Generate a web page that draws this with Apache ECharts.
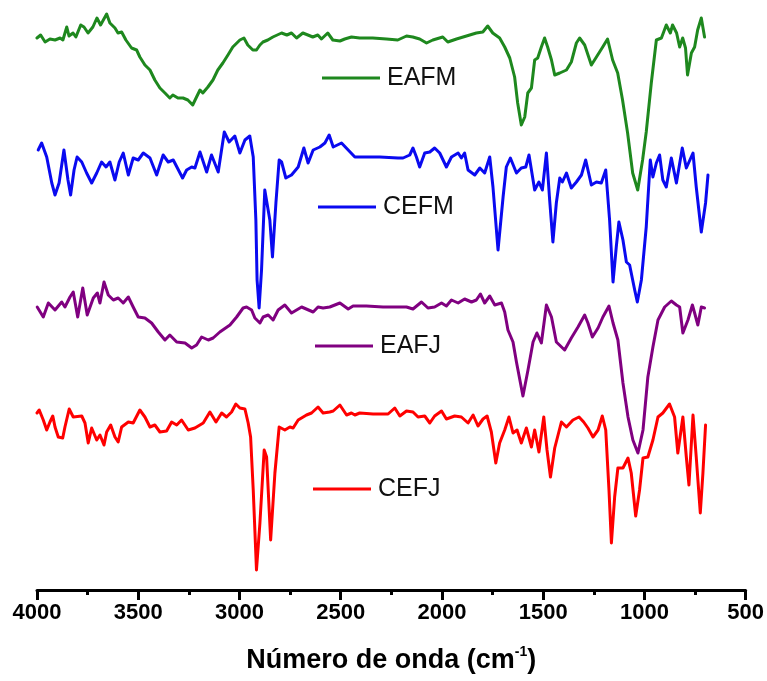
<!DOCTYPE html>
<html>
<head>
<meta charset="utf-8">
<script src="https://cdn.jsdelivr.net/npm/echarts@6/dist/echarts.min.js"></script>
<style>html,body{margin:0;padding:0;background:#fff}#c{width:767px;height:681px}</style>
</head>
<body>
<div id="c"></div>
<script>
// Series names (legend labels)
const seriesNames = ['EAFM', 'CEFM', 'EAFJ', 'CEFJ'];
const seriesColors = ['#1e881e', '#0a0af0', '#800080', '#ff0000'];

// x-axis (wavenumber, cm-1)
const xMin = 500, xMax = 4000, xStep = 500;

// Each series: [wavenumber, offset intensity (a.u.)]
const EAFM = [
[4000,552],[3982,555],[3960,548],[3936,551],[3911,550],[3886,552],[3872,550],[3853,563],[3842,554],[3822,557],
[3808,553],[3784,565],[3768,563],[3748,557],[3724,563],[3704,572],[3686,565],[3656,576],[3640,567],[3615,562],
[3600,557],[3582,558],[3561,550],[3533,542],[3508,540],[3492,533],[3467,525],[3442,520],[3418,510],[3393,502],
[3368,497],[3344,492],[3329,495],[3304,492],[3279,492],[3255,490],[3231,485],[3212,493],[3195,500],[3181,497],
[3156,503],[3131,510],[3107,520],[3082,527],[3057,535],[3033,543],[2998,550],[2978,552],[2959,545],[2934,540],
[2916,540],[2899,545],[2884,548],[2860,550],[2835,553],[2792,557],[2766,555],[2743,557],[2718,552],[2687,557],
[2662,555],[2638,553],[2613,555],[2595,551],[2564,557],[2539,550],[2504,549],[2480,551],[2447,553],[2406,552],
[2342,552],[2274,551],[2218,550],[2175,554],[2144,553],[2110,551],[2076,547],[2045,550],[1996,553],[1971,548],
[1928,551],[1879,554],[1830,557],[1798,558],[1774,564],[1749,557],[1715,552],[1690,543],[1665,532],[1641,513],
[1626,487],[1608,465],[1591,473],[1576,497],[1558,502],[1542,530],[1527,532],[1509,543],[1493,552],[1478,543],
[1459,530],[1443,515],[1418,517],[1385,520],[1361,528],[1336,547],[1320,552],[1295,545],[1262,525],[1237,533],
[1206,543],[1182,551],[1157,530],[1132,517],[1108,490],[1083,457],[1058,417],[1033,400],[1009,430],[991,458],
[966,507],[941,550],[916,552],[892,565],[872,557],[861,565],[841,557],[826,543],[811,552],[797,542],
[787,515],[768,537],[752,543],[737,560],[719,572],[703,553]
];

const CEFM = [
[3994,440],[3977,447],[3952,433],[3927,407],[3911,395],[3891,407],[3867,440],[3847,410],[3834,395],[3817,420],
[3802,433],[3779,428],[3755,417],[3730,407],[3705,417],[3681,428],[3659,423],[3640,428],[3615,410],[3594,428],
[3574,437],[3549,415],[3525,432],[3500,430],[3475,437],[3442,432],[3409,415],[3377,435],[3352,428],[3327,430],
[3281,412],[3261,420],[3236,423],[3220,422],[3195,438],[3162,418],[3138,435],[3105,418],[3075,458],[3051,448],
[3023,454],[2998,437],[2973,450],[2949,454],[2932,433],[2919,370],[2913,310],[2903,282],[2891,320],[2875,400],
[2866,402],[2850,370],[2837,333],[2820,387],[2804,430],[2792,428],[2771,412],[2743,415],[2710,423],[2682,442],
[2661,427],[2636,440],[2603,443],[2578,447],[2557,455],[2537,443],[2496,447],[2463,440],[2430,433],[2307,433],
[2217,432],[2192,432],[2159,435],[2143,442],[2126,433],[2110,423],[2085,437],[2060,438],[2036,442],[2011,437],
[1978,423],[1953,433],[1920,437],[1904,432],[1888,437],[1871,420],[1838,415],[1813,422],[1789,417],[1764,433],
[1748,403],[1723,340],[1698,393],[1682,423],[1662,432],[1632,417],[1608,422],[1586,423],[1570,435],[1542,400],
[1521,408],[1504,400],[1484,437],[1468,390],[1452,348],[1435,387],[1418,412],[1405,408],[1385,417],[1361,402],
[1336,408],[1311,415],[1290,430],[1262,405],[1237,408],[1213,407],[1191,420],[1172,370],[1155,308],[1139,343],
[1126,368],[1106,350],[1089,328],[1073,325],[1048,300],[1035,288],[1015,310],[991,363],[971,430],[958,413],
[941,427],[925,435],[909,410],[892,403],[867,432],[842,407],[813,442],[793,422],[760,437],[744,403],
[719,358],[698,387],[686,415]
];

const EAFJ = [
[3999,283],[3969,273],[3944,287],[3911,280],[3878,288],[3862,283],[3837,293],[3821,298],[3799,273],[3774,302],
[3752,275],[3722,292],[3702,297],[3689,287],[3669,308],[3648,295],[3623,290],[3599,292],[3574,287],[3549,293],
[3525,283],[3500,273],[3467,272],[3434,267],[3401,258],[3368,250],[3344,255],[3310,248],[3269,247],[3236,242],
[3212,245],[3187,253],[3154,250],[3130,252],[3097,258],[3047,265],[3014,273],[2982,282],[2965,283],[2940,280],
[2924,272],[2899,267],[2883,273],[2858,275],[2834,270],[2809,280],[2776,285],[2743,277],[2693,283],[2636,278],
[2612,283],[2587,282],[2554,283],[2504,287],[2463,281],[2439,284],[2373,284],[2291,283],[2233,283],[2175,283],
[2143,281],[2101,288],[2069,282],[2036,283],[2002,287],[1978,284],[1953,290],[1920,287],[1888,291],[1854,288],
[1830,290],[1810,296],[1789,287],[1764,294],[1739,285],[1706,287],[1690,278],[1674,260],[1649,248],[1632,228],
[1600,194],[1575,220],[1550,248],[1531,257],[1509,247],[1484,285],[1459,273],[1435,248],[1394,240],[1361,252],
[1328,263],[1295,275],[1279,267],[1257,253],[1229,262],[1205,273],[1175,284],[1155,267],[1131,250],[1106,207],
[1081,173],[1057,150],[1032,137],[1007,160],[983,213],[958,243],[933,270],[900,283],[867,289],[842,285],
[826,283],[810,257],[785,270],[763,285],[752,277],[736,265],[719,283],[703,282]
];

const CEFJ = [
[4000,177],[3989,180],[3969,170],[3952,160],[3936,168],[3922,174],[3911,163],[3895,153],[3873,152],[3862,163],
[3841,181],[3821,173],[3779,174],[3763,167],[3747,147],[3730,162],[3705,150],[3689,155],[3669,145],[3656,158],
[3636,165],[3615,153],[3599,148],[3582,163],[3549,168],[3525,167],[3492,180],[3467,173],[3442,163],[3418,165],
[3393,158],[3360,159],[3335,168],[3310,165],[3286,170],[3253,160],[3220,162],[3179,167],[3146,178],[3116,168],
[3088,177],[3064,173],[3039,178],[3018,186],[2998,182],[2973,181],[2957,167],[2945,153],[2932,100],[2916,20],
[2899,67],[2878,140],[2866,133],[2846,50],[2825,117],[2804,163],[2776,160],[2751,163],[2735,162],[2710,170],
[2669,175],[2644,177],[2612,183],[2587,177],[2554,178],[2537,179],[2504,185],[2471,175],[2447,177],[2430,175],
[2406,177],[2340,176],[2266,176],[2233,182],[2208,174],[2175,179],[2143,178],[2118,173],[2085,174],[2060,167],
[2036,174],[2002,179],[1978,171],[1937,174],[1904,173],[1871,167],[1846,175],[1822,164],[1797,171],[1777,174],
[1756,158],[1734,127],[1715,147],[1690,160],[1669,173],[1649,157],[1629,160],[1608,147],[1583,162],[1558,143],
[1542,160],[1521,138],[1497,173],[1481,140],[1464,113],[1443,142],[1410,168],[1385,163],[1353,170],[1323,173],
[1300,168],[1279,162],[1254,153],[1229,160],[1208,174],[1191,160],[1175,100],[1163,47],[1147,93],[1131,122],
[1106,122],[1081,132],[1065,117],[1043,74],[1024,100],[1007,132],[983,133],[958,150],[933,173],[909,177],
[876,186],[851,173],[835,137],[810,173],[793,133],[780,105],[760,175],[744,133],[724,77],[711,117],[698,165]
];

const seriesData = [EAFM, CEFM, EAFJ, CEFJ];

// legend anchor positions (layout only)
const legendPos = [
  {left: 322, top: 64},
  {left: 318, top: 193},
  {left: 315, top: 332},
  {left: 313, top: 475}
];

const chart = echarts.init(document.getElementById('c'), null, {renderer: 'canvas'});
const FONT = '"Liberation Sans", Arial, sans-serif';

const option = {
  backgroundColor: '#ffffff',
  animation: false,
  grid: {left: 37, right: 21, top: 10, bottom: 91, containLabel: false},
  legend: seriesNames.map((n, i) => ({
    data: [n],
    left: legendPos[i].left,
    top: legendPos[i].top,
    padding: 0,
    icon: 'rect',
    itemWidth: 58,
    itemHeight: 3,
    selectedMode: false,
    textStyle: {fontSize: 25, fontFamily: FONT, color: '#111', lineHeight: 28, padding: [0, 0, 0, 2]}
  })),
  xAxis: {
    type: 'value',
    inverse: true,
    min: xMin,
    max: xMax,
    interval: xStep,
    name: '{a|Número de onda (cm}{s|-1}{a|)}',
    nameLocation: 'middle',
    nameGap: 55,
    nameTextStyle: {
      rich: {
        a: {fontSize: 27, fontWeight: 'bold', fontFamily: FONT, color: '#000', lineHeight: 32},
        s: {fontSize: 14, fontWeight: 'bold', fontFamily: FONT, color: '#000', lineHeight: 22, verticalAlign: 'top'}
      }
    },
    axisLine: {show: true, onZero: false, lineStyle: {color: '#000', width: 3}},
    axisTick: {show: true, inside: false, length: 10, lineStyle: {color: '#000', width: 3}},
    minorTick: {show: true, splitNumber: 2, length: 5, lineStyle: {color: '#000', width: 3}},
    splitLine: {show: false},
    axisLabel: {
      show: true, margin: 12, fontSize: 22, fontWeight: 'bold', fontFamily: FONT, color: '#000',
      showMinLabel: true, showMaxLabel: true,
      formatter: v => String(v)
    }
  },
  yAxis: {
    type: 'value', min: 0, max: 580, show: false,
    splitLine: {show: false}
  },
  series: seriesNames.map((n, i) => ({
    name: n,
    type: 'line',
    data: seriesData[i],
    symbol: 'none',
    showSymbol: false,
    smooth: false,
    color: seriesColors[i],
    lineStyle: {color: seriesColors[i], width: 3, join: 'round', cap: 'round'},
    z: 2
  }))
};
chart.setOption(option);
</script>
</body>
</html>
